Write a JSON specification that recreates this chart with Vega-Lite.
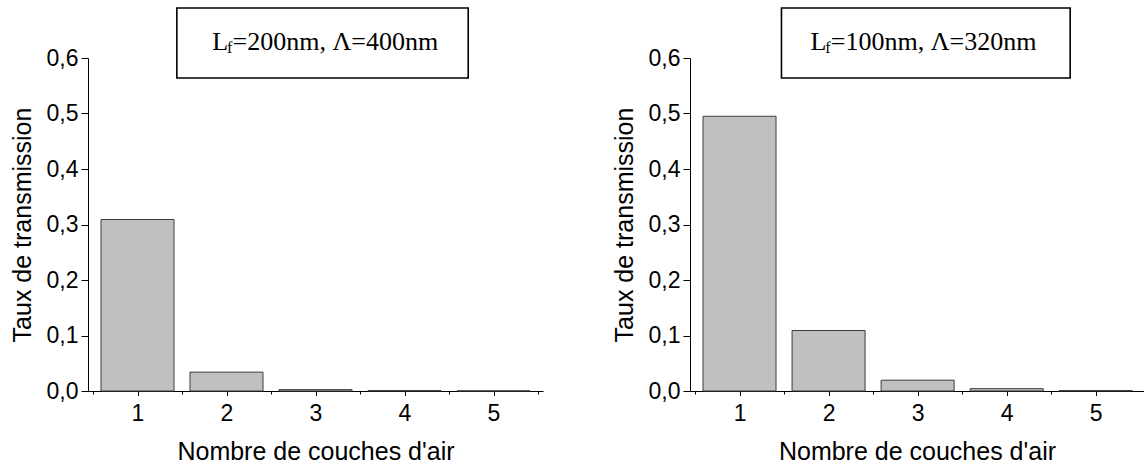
{
  "$schema": "https://vega.github.io/schema/vega-lite/v6.json",
  "background": "white",
  "padding": {"left": 10, "top": 7, "right": 0, "bottom": 0},
  "spacing": 69,
  "datasets": {
    "a": [
      {"couches": 1, "taux": 0.309},
      {"couches": 2, "taux": 0.034},
      {"couches": 3, "taux": 0.0025},
      {"couches": 4, "taux": 0.0008},
      {"couches": 5, "taux": 0.0003}
    ],
    "b": [
      {"couches": 1, "taux": 0.495},
      {"couches": 2, "taux": 0.109},
      {"couches": 3, "taux": 0.0195},
      {"couches": 4, "taux": 0.0042},
      {"couches": 5, "taux": 0.0008}
    ]
  },
  "hconcat": [
    {
      "width": 455,
      "height": 333,
      "layer": [
        {
          "data": {"name": "a"},
          "mark": {"type": "bar", "orient": "vertical", "width": 73, "fill": "#c0c0c0", "stroke": "#3c3c3c", "strokeWidth": 1},
          "encoding": {
            "x": {
              "field": "couches", "type": "quantitative",
              "scale": {"domain": [0.5, 5.5], "nice": false, "zero": false},
              "axis": {
                "title": "Nombre de couches d'air",
                "values": [0.5, 1, 1.5, 2, 2.5, 3, 3.5, 4, 4.5, 5, 5.5],
                "labelExpr": "datum.value % 1 == 0 ? format(datum.value, 'd') : ''",
                "tickSize": {"condition": {"test": "datum.value % 1 != 0", "value": 3}, "value": 4.5},
                "labelPadding": 7, "titlePadding": 14, "labelFlush": false, "labelOverlap": false
              }
            },
            "y": {
              "field": "taux", "type": "quantitative",
              "scale": {"domain": [0, 0.6], "nice": false},
              "axis": {
                "title": "Taux de transmission",
                "values": [0, 0.05, 0.1, 0.15, 0.2, 0.25, 0.3, 0.35, 0.4, 0.45, 0.5, 0.55, 0.6],
                "labelExpr": "round(datum.value*100) % 10 == 0 ? replace(format(datum.value, '.1f'), '.', ',') : ''",
                "tickSize": {"condition": {"test": "round(datum.value*100) % 10 != 0", "value": 3.5}, "value": 7},
                "labelPadding": 3, "titlePadding": 11, "labelFlush": false, "labelOverlap": false
              }
            }
          }
        },
        {
          "data": {"values": [{}]},
          "mark": {"type": "rect", "fill": "white", "stroke": "black", "strokeWidth": 1.6, "clip": false},
          "encoding": {"x": {"datum": 1.442}, "x2": {"datum": 4.716}, "y": {"datum": 0.690}, "y2": {"datum": 0.564}}
        },
        {
          "data": {"values": [{"t": "L"}]},
          "mark": {"type": "text", "font": "Liberation Serif", "fontSize": 26, "align": "right", "baseline": "alphabetic", "dx": -4.4, "color": "black", "clip": false},
          "encoding": {"text": {"field": "t"}, "x": {"datum": 2.068}, "y": {"datum": 0.615}}
        },
        {
          "data": {"values": [{"t": "f"}]},
          "mark": {"type": "text", "font": "Liberation Serif", "fontSize": 16, "align": "left", "baseline": "alphabetic", "dx": -5.5, "dy": 3.5, "color": "black", "clip": false},
          "encoding": {"text": {"field": "t"}, "x": {"datum": 2.068}, "y": {"datum": 0.615}}
        },
        {
          "data": {"values": [{"t": "=200nm, Λ=400nm"}]},
          "mark": {"type": "text", "font": "Liberation Serif", "fontSize": 26, "align": "left", "baseline": "alphabetic", "color": "black", "clip": false},
          "encoding": {"text": {"field": "t"}, "x": {"datum": 2.068}, "y": {"datum": 0.615}}
        }
      ]
    },
    {
      "width": 454,
      "height": 333,
      "layer": [
        {
          "data": {"name": "b"},
          "mark": {"type": "bar", "orient": "vertical", "width": 73, "fill": "#c0c0c0", "stroke": "#3c3c3c", "strokeWidth": 1},
          "encoding": {
            "x": {
              "field": "couches", "type": "quantitative",
              "scale": {"domain": [0.5, 5.486], "nice": false, "zero": false},
              "axis": {
                "title": "Nombre de couches d'air",
                "values": [0.5, 1, 1.5, 2, 2.5, 3, 3.5, 4, 4.5, 5],
                "labelExpr": "datum.value % 1 == 0 ? format(datum.value, 'd') : ''",
                "tickSize": {"condition": {"test": "datum.value % 1 != 0", "value": 3}, "value": 4.5},
                "labelPadding": 7, "titlePadding": 14, "labelFlush": false, "labelOverlap": false
              }
            },
            "y": {
              "field": "taux", "type": "quantitative",
              "scale": {"domain": [0, 0.6], "nice": false},
              "axis": {
                "title": "Taux de transmission",
                "values": [0, 0.05, 0.1, 0.15, 0.2, 0.25, 0.3, 0.35, 0.4, 0.45, 0.5, 0.55, 0.6],
                "labelExpr": "round(datum.value*100) % 10 == 0 ? replace(format(datum.value, '.1f'), '.', ',') : ''",
                "tickSize": {"condition": {"test": "round(datum.value*100) % 10 != 0", "value": 3.5}, "value": 7},
                "labelPadding": 3, "titlePadding": 11, "labelFlush": false, "labelOverlap": false
              }
            }
          }
        },
        {
          "data": {"values": [{}]},
          "mark": {"type": "rect", "fill": "white", "stroke": "black", "strokeWidth": 1.6, "clip": false},
          "encoding": {"x": {"datum": 1.471}, "x2": {"datum": 4.713}, "y": {"datum": 0.690}, "y2": {"datum": 0.564}}
        },
        {
          "data": {"values": [{"t": "L"}]},
          "mark": {"type": "text", "font": "Liberation Serif", "fontSize": 26, "align": "right", "baseline": "alphabetic", "dx": -4.4, "color": "black", "clip": false},
          "encoding": {"text": {"field": "t"}, "x": {"datum": 2.025}, "y": {"datum": 0.615}}
        },
        {
          "data": {"values": [{"t": "f"}]},
          "mark": {"type": "text", "font": "Liberation Serif", "fontSize": 16, "align": "left", "baseline": "alphabetic", "dx": -5.5, "dy": 3.5, "color": "black", "clip": false},
          "encoding": {"text": {"field": "t"}, "x": {"datum": 2.025}, "y": {"datum": 0.615}}
        },
        {
          "data": {"values": [{"t": "=100nm, Λ=320nm"}]},
          "mark": {"type": "text", "font": "Liberation Serif", "fontSize": 26, "align": "left", "baseline": "alphabetic", "color": "black", "clip": false},
          "encoding": {"text": {"field": "t"}, "x": {"datum": 2.025}, "y": {"datum": 0.615}}
        }
      ]
    }
  ],
  "config": {
    "view": {"stroke": null},
    "axis": {
      "domainColor": "#000000", "tickColor": "#000000", "labelColor": "#000000", "titleColor": "#000000",
      "labelFont": "Liberation Sans", "titleFont": "Liberation Sans",
      "labelFontSize": 23, "titleFontSize": 25, "titleFontWeight": "normal",
      "grid": false, "domainWidth": 1, "tickWidth": 1
    }
  }
}
